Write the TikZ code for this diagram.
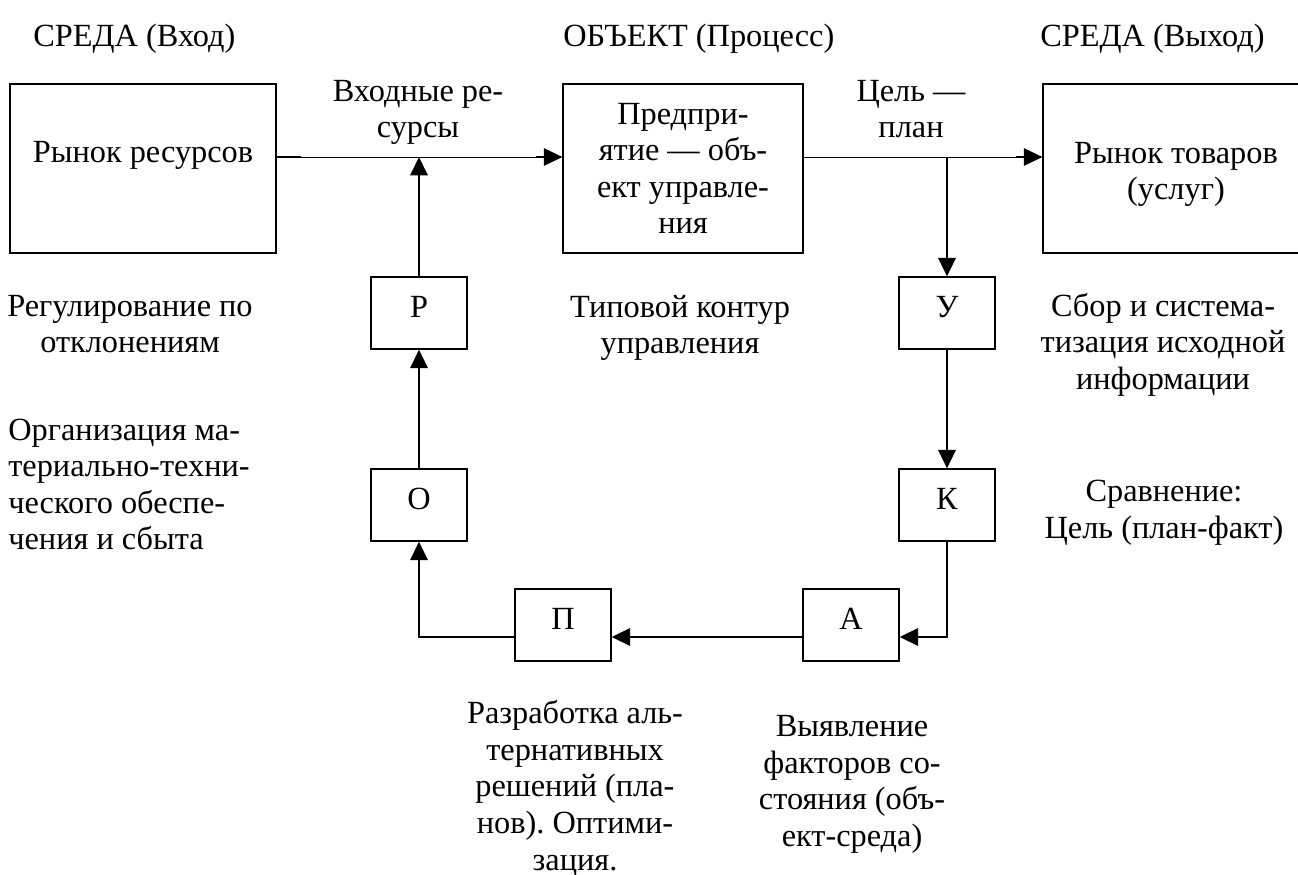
\documentclass[tikz,border=0pt]{standalone}
\usepackage{fontspec}
\setmainfont{Liberation Serif}
\usetikzlibrary{arrows.meta}
\frenchspacing

\begin{document}
\begin{tikzpicture}[x=0.02cm, y=-0.02cm,
		font=\fontsize{18.4}{20.8}\selectfont,
		bigbox/.style={draw, line width=0.8pt, inner sep=0pt, minimum height=3.38cm},
		smallbox/.style={draw, line width=0.8pt, inner sep=0pt, minimum width=1.92cm, minimum height=1.44cm, text height=0.44cm, text depth=0.28cm},
		ringflow/.style={line width=0.85pt, -{Triangle[length=10.5pt, width=10pt]}},
		mainflow/.style={line width=0.4pt, -{Triangle[length=10.5pt, width=10pt]}},
		txt/.style={inner sep=0pt, align=center}]
			%%%%% START %%%%%
			
			\useasboundingbox (0,0) rectangle (1298,875);
			
			\node[txt, anchor=base west] (envIn) at (33,47) {СРЕДА (Вход)};
			\node[txt, anchor=base west] (objHead) at (563,47) {ОБЪЕКТ (Процесс)};
			\node[txt, anchor=base west] (envOut) at (1040,47) {СРЕДА (Выход)};
			
			\node[bigbox, minimum width=5.32cm, text height=0.44cm, text depth=0.7cm] (resMarket) at (143,168.5) {Рынок ресурсов};
			\node[bigbox, minimum width=4.8cm, align=center] (firm) at (683,168.5) {Предпри-\\ятие — объ-\\ект управле-\\ния};
			\node[bigbox, minimum width=5.32cm, align=center] (goodsMarket) at (1176,168.5) {\rule{0pt}{0.66cm}Рынок товаров\\(услуг)};
			
			\node[smallbox] (boxR) at (419,313) {Р};
			\node[smallbox] (boxO) at (419,505) {О};
			\node[smallbox] (boxU) at (947,313) {У};
			\node[smallbox] (boxK) at (947,505) {К};
			\node[smallbox] (boxP) at (563,625) {П};
			\node[smallbox] (boxA) at (851,625) {А};
			
			\node[txt] (inRes) at (418,112.5) {Входные ре-\\сурсы};
			\node[txt] (goal) at (911,109) {Цель —\\план};
			\node[txt] (typical) at (680,328) {Типовой контур\\управления};
			\node[txt] (regul) at (130,324) {Регулирование по\\отклонениям};
			\node[txt, align=left, anchor=west] (supply) at (8,484.5) {Организация ма-\\териально-техни-\\ческого обеспе-\\чения и сбыта};
			\node[txt] (collect) at (1163,344.5) {Сбор и система-\\тизация исходной\\информации};
			\node[txt] (compare) at (1164,513) {Сравнение:\\Цель (план-факт)};
			\node[txt] (develop) at (575,788.5) {Разработка аль-\\тернативных\\решений (пла-\\нов). Оптими-\\зация.};
			\node[txt] (detect) at (852,784.5) {Выявление\\факторов со-\\стояния (объ-\\ект-среда)};
			
			\coordinate (mainrow) at (0,157);
			\coordinate (looprow) at (0,637);
			
			% main flow
			\draw[mainflow] (resMarket.east |- mainrow) -- (firm.west |- mainrow);
			\draw[line width=0.8pt] (resMarket.east |- mainrow) -- ++(24,0);
			\draw[line width=0.8pt] (firm.west |- mainrow) ++(-26,0) -- ++(9,0);
			\draw[mainflow] (firm.east |- mainrow) -- (goodsMarket.west |- mainrow);
			\draw[line width=0.8pt] (goodsMarket.west |- mainrow) ++(-26,0) -- ++(9,0);
			
			% control loop
			\draw[ringflow] (boxU |- mainrow) -- (boxU);
			\draw[ringflow] (boxU) -- (boxK);
			\draw[ringflow] (boxK) |- (boxA.east |- looprow);
			\draw[ringflow] (boxA.west |- looprow) -- (boxP.east |- looprow);
			\draw[ringflow] (boxP.west |- looprow) -| (boxO);
			\draw[ringflow] (boxO) -- (boxR);
			\draw[ringflow] (boxR) -- (boxR |- mainrow);
			
			%%%%% END %%%%%
		\end{tikzpicture}
\end{document}
